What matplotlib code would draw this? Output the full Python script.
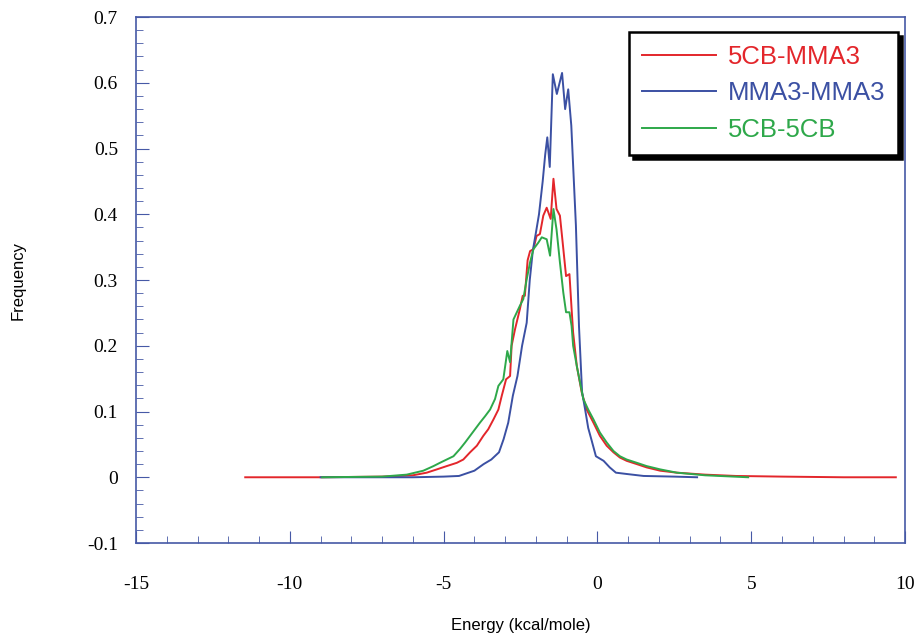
import matplotlib
matplotlib.use("Agg")
import matplotlib.pyplot as plt
from matplotlib.ticker import MultipleLocator

# energy (kcal/mole) vs frequency
e_5cb_mma3 = [-11.45, -9.0, -7.0, -6.0, -5.55, -5.22, -4.9, -4.57, -4.36, -4.14, -3.92,
              -3.71, -3.55, -3.38, -3.22, -3.11, -2.97, -2.84, -2.79, -2.68, -2.52,
              -2.43, -2.36, -2.27, -2.19, -2.08, -1.98, -1.87, -1.76, -1.65, -1.52,
              -1.43, -1.33, -1.22, -1.13, -1.02, -0.91, -0.84, -0.79, -0.67, -0.51,
              -0.35, -0.13, 0.08, 0.3, 0.52, 0.73, 0.95, 1.28, 1.6, 2.04, 2.58,
              3.5, 4.5, 6.0, 8.0, 9.7]
f_5cb_mma3 = [0.0, 0.0, 0.001, 0.003, 0.007, 0.012, 0.017, 0.022, 0.027, 0.038, 0.048,
              0.063, 0.073, 0.088, 0.103, 0.124, 0.149, 0.154, 0.20, 0.225, 0.256,
              0.276, 0.276, 0.33, 0.344, 0.347, 0.367, 0.37, 0.398, 0.41, 0.393,
              0.454, 0.408, 0.398, 0.357, 0.306, 0.309, 0.256, 0.22, 0.169, 0.129,
              0.103, 0.083, 0.063, 0.048, 0.038, 0.03, 0.025, 0.02, 0.015, 0.01, 0.007,
              0.004, 0.002, 0.001, 0.0, 0.0]

e_mma3_mma3 = [-9.0, -6.0, -5.0, -4.5, -4.25, -4.0, -3.7, -3.45, -3.2, -3.05, -2.9,
               -2.75, -2.6, -2.45, -2.3, -2.2, -2.1, -2.0, -1.9, -1.78, -1.7, -1.63,
               -1.55, -1.45, -1.32, -1.15, -1.05, -0.95, -0.85, -0.7, -0.6, -0.5,
               -0.4, -0.3, -0.2, -0.05, 0.2, 0.4, 0.6, 0.95, 1.5, 2.5, 3.24]
f_mma3_mma3 = [0.0, 0.0, 0.001, 0.002, 0.006, 0.01, 0.02, 0.027, 0.038, 0.058, 0.083,
               0.124, 0.154, 0.2, 0.235, 0.30, 0.345, 0.372, 0.40, 0.45, 0.49, 0.517,
               0.472, 0.613, 0.583, 0.615, 0.56, 0.59, 0.535, 0.383, 0.23, 0.13,
               0.103, 0.075, 0.058, 0.032, 0.025, 0.015, 0.007, 0.005, 0.002, 0.001, 0.0]

e_5cb_5cb = [-8.95, -7.0, -6.2, -5.66, -5.33, -5.12, -4.9, -4.68, -4.47, -4.3, -4.14,
             -3.98, -3.82, -3.65, -3.49, -3.33, -3.22, -3.06, -2.93, -2.84, -2.73,
             -2.52, -2.41, -2.3, -2.19, -2.08, -1.92, -1.81, -1.65, -1.54, -1.43,
             -1.33, -1.22, -1.11, -1.02, -0.91, -0.84, -0.79, -0.67, -0.46, -0.3,
             -0.13, 0.08, 0.3, 0.52, 0.73, 0.95, 1.28, 1.6, 2.04, 2.58, 3.5, 4.9]
f_5cb_5cb = [0.0, 0.001, 0.004, 0.01, 0.017, 0.022, 0.027, 0.032, 0.043, 0.053, 0.063,
             0.073, 0.083, 0.093, 0.103, 0.119, 0.139, 0.149, 0.192, 0.175, 0.24,
             0.261, 0.271, 0.301, 0.327, 0.347, 0.357, 0.365, 0.362, 0.337, 0.408,
             0.377, 0.327, 0.281, 0.251, 0.251, 0.23, 0.2, 0.169, 0.119, 0.103,
             0.088, 0.068, 0.053, 0.04, 0.032, 0.027, 0.022, 0.017, 0.012, 0.007, 0.003, 0.0]

red = "#e3262b"
blue = "#3b50a3"
green = "#2ea84a"
axis_blue = "#4659a6"

fig = plt.figure(figsize=(9.24, 6.36), dpi=100)
ax = fig.add_axes([0.1472, 0.1462, 0.8323, 0.827])

ax.plot(e_5cb_mma3, f_5cb_mma3, color=red, lw=1.4, label="5CB-MMA3")
ax.plot(e_mma3_mma3, f_mma3_mma3, color=blue, lw=1.4, label="MMA3-MMA3")
ax.plot(e_5cb_5cb, f_5cb_5cb, color=green, lw=1.4, label="5CB-5CB")

ax.set_xlim(-15, 10)
ax.set_ylim(-0.1, 0.7)
ax.xaxis.set_major_locator(MultipleLocator(5))
ax.xaxis.set_minor_locator(MultipleLocator(1))
ax.yaxis.set_major_locator(MultipleLocator(0.1))
ax.yaxis.set_minor_locator(MultipleLocator(0.02))

for s in ax.spines.values():
    s.set_color(axis_blue)
    s.set_linewidth(1.2)

ax.tick_params(which="both", direction="in", color=axis_blue, top=False, right=False,
               labelsize=14)
ax.tick_params(axis="x", which="major", length=9, pad=24)
ax.tick_params(axis="x", which="minor", length=5)
ax.tick_params(axis="y", which="major", length=9, pad=13)
ax.tick_params(axis="y", which="minor", length=5)

ax.set_xticks([-15, -10, -5, 0, 5, 10])
ax.set_xticklabels(["-15", "-10", "-5", "0", "5", "10"], family="Liberation Serif")
yt = [-0.1, 0.0, 0.1, 0.2, 0.3, 0.4, 0.5, 0.6, 0.7]
ax.set_yticks(yt)
ax.set_yticklabels(["-0.1", "0", "0.1", "0.2", "0.3", "0.4", "0.5", "0.6", "0.7"],
                   family="Liberation Serif")

ax.set_xlabel("Energy (kcal/mole)", family="Liberation Sans", fontsize=12, labelpad=18)
ax.set_ylabel("Frequency", family="Liberation Sans", fontsize=12, labelpad=44)

leg = ax.legend(loc="upper right", bbox_to_anchor=(0.991, 0.971), borderaxespad=0,
                fancybox=False, handlelength=2.9, handletextpad=0.45, labelspacing=0.48,
                prop={"family": "Liberation Sans", "size": 18.5},
                shadow={"color": "black", "alpha": 1, "ox": 3, "oy": -3},
                borderpad=0.5, framealpha=1)
leg.get_frame().set_edgecolor("black")
leg.get_frame().set_linewidth(1.8)
for txt, c in zip(leg.get_texts(), [red, blue, green]):
    txt.set_color(c)

fig.savefig("out.png", dpi=100)
